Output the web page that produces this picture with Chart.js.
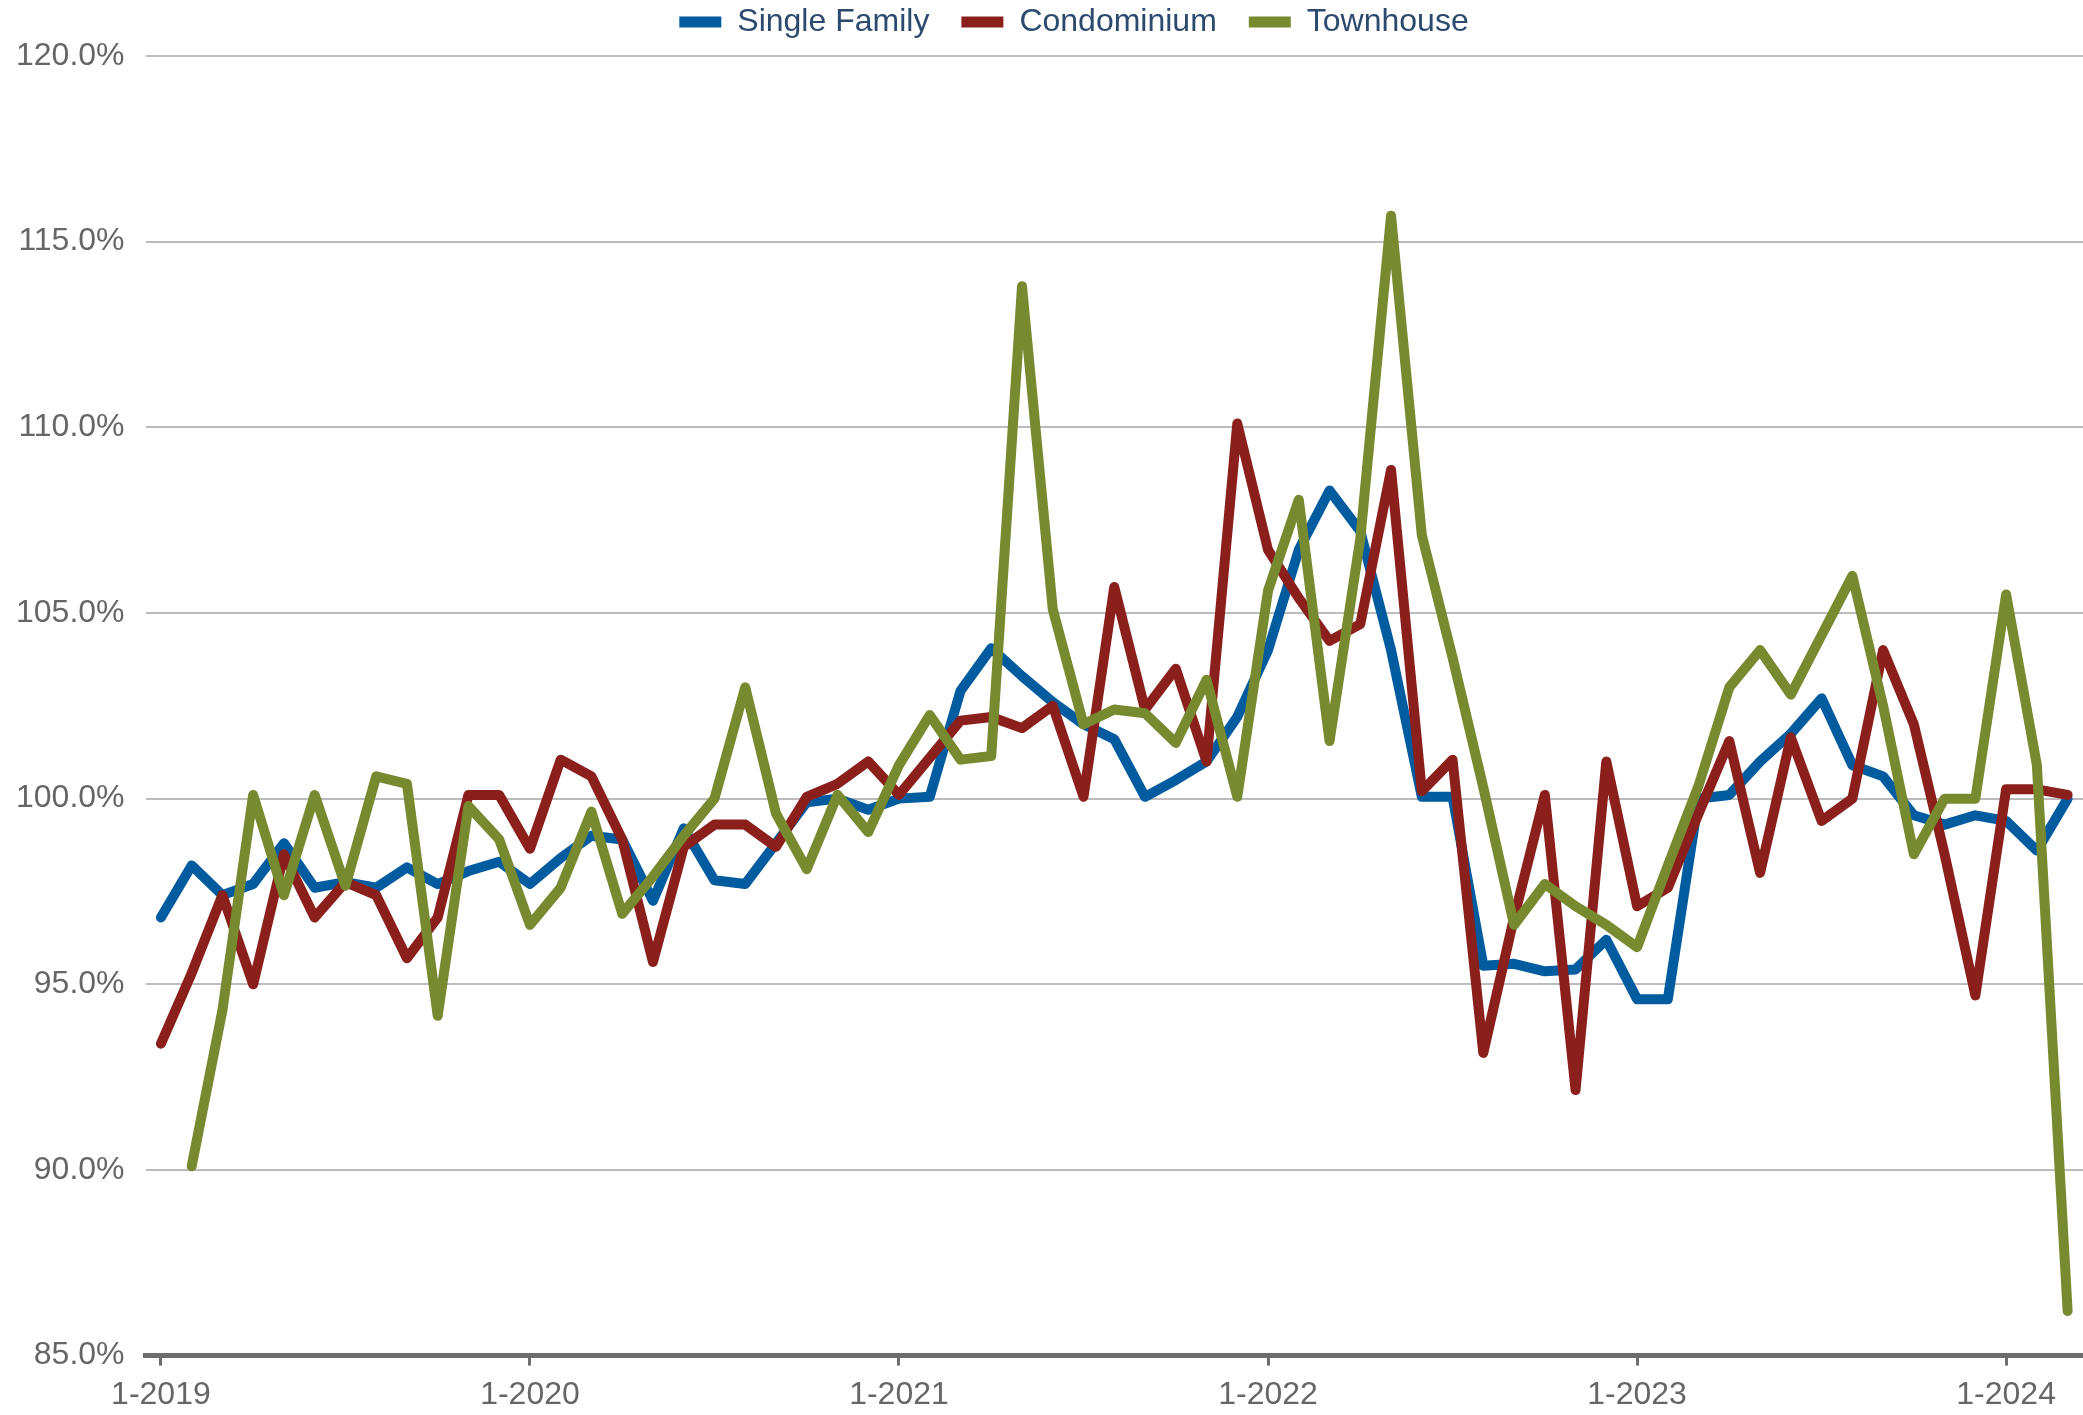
<!DOCTYPE html>
<html>
<head>
<meta charset="utf-8">
<script src="https://cdn.jsdelivr.net/npm/chart.js@4"></script>
<style>
  body { margin: 0; background: #fff; }
  #wrap { width: 2083px; height: 1415px; }
</style>
</head>
<body>
<div id="wrap"><canvas id="chart"></canvas></div>
<script>
// ======================= DATA ==========================
const months = [];
for (let y = 2019; y <= 2024; y++) {
    for (let m = 1; m <= 12; m++) {
        if (y === 2024 && m > 3) break;
        months.push(m + '-' + y);
    }
}

const singleFamily = [
    96.8, 98.2, 97.4, 97.7, 98.8, 97.6, 97.75, 97.6, 98.15, 97.7, 98.05, 98.3,
    97.7, 98.4, 99.0, 98.9, 97.25, 99.2, 97.8, 97.7, 98.8, 99.9, 100.0, 99.7,
    100.0, 100.05, 102.9, 104.05, 103.3, 102.6, 102.0, 101.6, 100.05, 100.5, 101.0, 102.2,
    104.0, 106.7, 108.3, 107.2, 104.0, 100.05, 100.05, 95.5, 95.55, 95.35, 95.4, 96.2,
    94.6, 94.6, 100.0, 100.1, 101.0, 101.75, 102.7, 100.9, 100.6, 99.55, 99.3, 99.55,
    99.4, 98.6, 100.0
];

const condominium = [
    93.4, 95.3, 97.4, 95.0, 98.5, 96.8, 97.75, 97.4, 95.7, 96.8, 100.1, 100.1,
    98.65, 101.05, 100.6, 98.9, 95.6, 98.7, 99.3, 99.3, 98.7, 100.05, 100.4, 101.0,
    100.1, 101.1, 102.1, 102.2, 101.9, 102.5, 100.05, 105.7, 102.4, 103.5, 101.0, 110.1,
    106.7, 105.4, 104.25, 104.7, 108.85, 100.2, 101.05, 93.15, 96.8, 100.1, 92.15, 101.0,
    97.1, 97.6, 99.6, 101.55, 98.0, 101.65, 99.4, 100.0, 104.0, 102.0, 98.5, 94.7,
    100.25, 100.25, 100.1
];

const townhouse = [
    null, 90.1, 94.3, 100.1, 97.4, 100.1, 97.65, 100.6, 100.4, 94.15, 99.8, 98.9,
    96.6, 97.6, 99.65, 96.9, 97.9, 99.0, 100.0, 103.0, 99.6, 98.1, 100.1, 99.1,
    100.9, 102.25, 101.05, 101.15, 113.8, 105.1, 102.0, 102.4, 102.3, 101.5, 103.2, 100.05,
    105.6, 108.05, 101.55, 107.0, 115.7, 107.1, 103.8, 100.3, 96.6, 97.7, 97.1, 96.6,
    96.0, 98.2, 100.35, 103.0, 104.0, 102.8, 104.4, 106.0, 102.5, 98.5, 100.0, 100.0,
    105.5, 100.9, 86.2
];

// ======================= CHART =============================
const FONT = "'Liberation Sans', Arial, sans-serif";

function series(label, data, color, order) {
    return {
        label: label,
        data: data,
        borderColor: color,
        backgroundColor: color,
        borderWidth: 10,
        pointRadius: 0,
        tension: 0,
        borderJoinStyle: 'round',
        borderCapStyle: 'round',
        order: order
    };
}

// legend sits tight to the top edge, chart area starts below it
const legendTweak = {
    id: 'legendTweak',
    afterInit(chart) {
        const lg = chart.legend;
        if (!lg) return;
        const fit = lg.fit;
        lg.fit = function () { fit.call(this); this.height = 56; };
    },
    afterLayout(chart) {
        const lg = chart.legend;
        lg.top -= 26;
        lg.left += 35; lg.right += 35;
    }
};

new Chart(document.getElementById('chart'), {
    type: 'line',
    data: {
        labels: months,
        datasets: [
            series('Single Family', singleFamily, '#005b9f', 3),
            series('Condominium', condominium, '#8a1f1b', 2),
            series('Townhouse', townhouse, '#788a2f', 1)
        ]
    },
    plugins: [legendTweak],
    options: {
        responsive: true,
        maintainAspectRatio: false,
        animation: false,
        layout: { padding: { left: -5, right: 0, top: 0, bottom: -9 } },
        plugins: {
            tooltip: { enabled: false },
            legend: {
                position: 'top',
                labels: {
                    font: { family: FONT, size: 32 },
                    color: '#2c4a6e',
                    boxWidth: 42,
                    boxHeight: 11,
                    padding: 32,
                    sort: (a, b) => a.datasetIndex - b.datasetIndex,
                    generateLabels: chart =>
                        Chart.defaults.plugins.legend.labels.generateLabels(chart)
                            .map(l => Object.assign(l, { lineWidth: 0 }))
                }
            }
        },
        scales: {
            x: {
                offset: true,
                grid: {
                    drawOnChartArea: false,
                    drawTicks: true,
                    tickLength: 10,
                    offset: false,
                    lineWidth: 3,
                    color: ctx => (ctx.index % 12 === 0 ? '#6d6d6d' : 'rgba(0,0,0,0)')
                },
                border: { color: '#6d6d6d', width: 5 },
                ticks: {
                    autoSkip: false,
                    maxRotation: 0,
                    padding: 10,
                    color: '#666',
                    font: { family: FONT, size: 32 },
                    callback: function (v, i) { return i % 12 === 0 ? months[i] : ''; }
                }
            },
            y: {
                min: 85,
                max: 120,
                ticks: {
                    stepSize: 5,
                    padding: 21,
                    color: '#666',
                    font: { family: FONT, size: 32 },
                    callback: v => v.toFixed(1) + '%'
                },
                grid: { color: '#bcbcbc', lineWidth: 2, drawTicks: false },
                border: { display: false }
            }
        }
    }
});
</script>
</body>
</html>
